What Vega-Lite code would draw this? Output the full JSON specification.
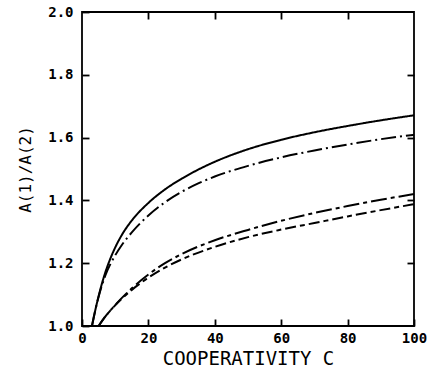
{
  "$schema": "https://vega.github.io/schema/vega-lite/v6.json",
  "width": 332,
  "height": 314,
  "autosize": "none",
  "padding": {"left": 82, "top": 12, "right": 16, "bottom": 46},
  "background": "white",
  "config": {
    "view": {"stroke": "black", "strokeWidth": 1.8},
    "axis": {
      "domain": false, "tickColor": "black", "tickWidth": 1.8, "tickSize": 7, "offset": -7,
      "grid": false, "labelFont": "DejaVu Sans Mono", "labelFontWeight": "bold", "labelFontSize": 14,
      "labelColor": "black", "titleFont": "DejaVu Sans Mono", "titleFontWeight": "normal",
      "titleColor": "black"
    }
  },
  "data": {"values": [
    {"c":3,"r":1.0,"s":"a"},{"c":4,"r":1.05,"s":"a"},{"c":5,"r":1.095,"s":"a"},{"c":6,"r":1.135,"s":"a"},{"c":7,"r":1.17,"s":"a"},{"c":8,"r":1.20,"s":"a"},{"c":10,"r":1.25,"s":"a"},{"c":12,"r":1.29,"s":"a"},{"c":15,"r":1.336,"s":"a"},{"c":20,"r":1.392,"s":"a"},{"c":25,"r":1.435,"s":"a"},{"c":30,"r":1.469,"s":"a"},{"c":35,"r":1.498,"s":"a"},{"c":40,"r":1.523,"s":"a"},{"c":50,"r":1.563,"s":"a"},{"c":60,"r":1.593,"s":"a"},{"c":70,"r":1.617,"s":"a"},{"c":80,"r":1.637,"s":"a"},{"c":90,"r":1.655,"s":"a"},{"c":100,"r":1.671,"s":"a"},
    {"c":3,"r":1.0,"s":"b"},{"c":4,"r":1.05,"s":"b"},{"c":5,"r":1.093,"s":"b"},{"c":7,"r":1.16,"s":"b"},{"c":10,"r":1.225,"s":"b"},{"c":12,"r":1.258,"s":"b"},{"c":15,"r":1.298,"s":"b"},{"c":20,"r":1.352,"s":"b"},{"c":25,"r":1.394,"s":"b"},{"c":30,"r":1.427,"s":"b"},{"c":35,"r":1.454,"s":"b"},{"c":40,"r":1.476,"s":"b"},{"c":50,"r":1.51,"s":"b"},{"c":60,"r":1.537,"s":"b"},{"c":70,"r":1.559,"s":"b"},{"c":80,"r":1.578,"s":"b"},{"c":90,"r":1.595,"s":"b"},{"c":100,"r":1.609,"s":"b"},
    {"c":5,"r":1.0,"s":"c"},{"c":7,"r":1.03,"s":"c"},{"c":10,"r":1.067,"s":"c"},{"c":15,"r":1.12,"s":"c"},{"c":20,"r":1.164,"s":"c"},{"c":25,"r":1.2,"s":"c"},{"c":30,"r":1.229,"s":"c"},{"c":40,"r":1.273,"s":"c"},{"c":50,"r":1.306,"s":"c"},{"c":60,"r":1.335,"s":"c"},{"c":70,"r":1.36,"s":"c"},{"c":80,"r":1.382,"s":"c"},{"c":90,"r":1.402,"s":"c"},{"c":100,"r":1.42,"s":"c"},
    {"c":5,"r":1.0,"s":"d"},{"c":7,"r":1.03,"s":"d"},{"c":10,"r":1.066,"s":"d"},{"c":15,"r":1.115,"s":"d"},{"c":20,"r":1.154,"s":"d"},{"c":25,"r":1.186,"s":"d"},{"c":30,"r":1.212,"s":"d"},{"c":40,"r":1.252,"s":"d"},{"c":50,"r":1.283,"s":"d"},{"c":60,"r":1.307,"s":"d"},{"c":70,"r":1.328,"s":"d"},{"c":80,"r":1.349,"s":"d"},{"c":90,"r":1.369,"s":"d"},{"c":100,"r":1.388,"s":"d"}
  ]},
  "resolve": {"axis": {"x": "independent", "y": "independent"}},
  "layer": [
    {
      "mark": {"type": "line", "color": "black", "strokeWidth": 2, "interpolate": "monotone"},
      "encoding": {
        "x": {"field": "c", "type": "quantitative", "scale": {"domain": [0, 100], "nice": false},
              "axis": {"title": "COOPERATIVITY C", "titleFontSize": 19, "values": [0,20,40,60,80,100], "labelPadding": 5, "titlePadding": 4, "labelFlush": false}},
        "y": {"field": "r", "type": "quantitative", "scale": {"domain": [1, 2], "nice": false, "zero": false},
              "axis": {"title": "A(1)/A(2)", "titleFontSize": 16, "values": [1,1.2,1.4,1.6,1.8,2.0], "format": ".1f", "labelPadding": 9, "titlePadding": 14, "labelFlush": false}},
        "strokeDash": {"field": "s", "type": "nominal", "legend": null,
                       "scale": {"domain": ["a","b","c","d"], "range": [[1,0],[15,4,2,4],[16,4,4,4],[11,4,5,4]]}}
      }
    },
    {
      "mark": {"type": "line", "opacity": 0},
      "encoding": {
        "x": {"field": "c", "type": "quantitative", "axis": {"orient": "top", "title": null, "labels": false, "values": [20,40,60,80]}},
        "y": {"field": "r", "type": "quantitative", "axis": {"orient": "right", "title": null, "labels": false, "values": [1.2,1.4,1.6,1.8]}},
        "detail": {"field": "s"}
      }
    }
  ]
}
